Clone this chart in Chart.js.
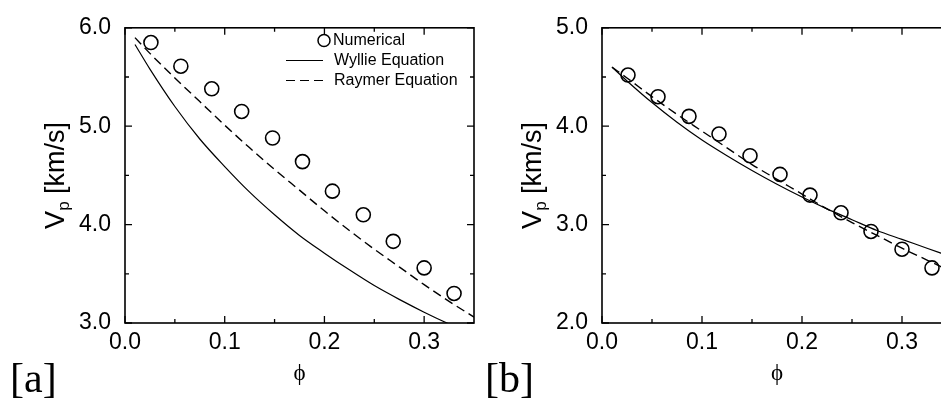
<!DOCTYPE html>
<html lang="en">
<head>
<meta charset="UTF-8">
<title>Vp versus porosity</title>
<script src="https://cdn.jsdelivr.net/npm/chart.js"></script>
<style>
  html, body { margin: 0; padding: 0; background: #fff; overflow: hidden; }
  #wrap { position: relative; width: 941px; height: 406px; overflow: hidden; }
  .panel { position: absolute; top: 0; width: 490px; height: 406px; }
  #panelA { left: 0; }
  #panelB { left: 477px; }
  .tag { position: absolute; font-family: 'Liberation Serif', serif; font-size: 42px; line-height: 1; color: #000; }
</style>
</head>
<body>
<div id="wrap">
  <div class="panel" id="panelA"><canvas id="chartA" width="490" height="406"></canvas></div>
  <div class="panel" id="panelB"><canvas id="chartB" width="490" height="406"></canvas></div>
  <div class="tag" style="left:10px; top:357px">[a]</div>
  <div class="tag" style="left:485px; top:357px">[b]</div>
</div>

<script>
// numerical results (circles)
const phiNum = [0.026, 0.056, 0.087, 0.117, 0.148, 0.178, 0.208, 0.239, 0.269, 0.300, 0.330];
const vpNumA = [5.85, 5.61, 5.38, 5.15, 4.88, 4.64, 4.34, 4.10, 3.83, 3.56, 3.30];
const vpNumB = [4.52, 4.30, 4.10, 3.92, 3.70, 3.51, 3.30, 3.12, 2.93, 2.75, 2.56];

// curves
const phiLine = [0.01, 0.025, 0.05, 0.075, 0.1, 0.125, 0.15, 0.175, 0.2, 0.225, 0.25, 0.275, 0.3, 0.325, 0.35];
const wyllieA = [5.83, 5.58, 5.20, 4.87, 4.59, 4.33, 4.10, 3.89, 3.71, 3.54, 3.38, 3.24, 3.11, 2.99, 2.88];
const raymerA = [5.90, 5.74, 5.49, 5.25, 5.01, 4.78, 4.56, 4.35, 4.14, 3.94, 3.75, 3.57, 3.39, 3.22, 3.06];
const wyllieB = [4.60, 4.46, 4.24, 4.04, 3.86, 3.70, 3.55, 3.41, 3.28, 3.16, 3.05, 2.94, 2.85, 2.76, 2.67];
const raymerB = [4.60, 4.49, 4.30, 4.12, 3.95, 3.78, 3.61, 3.46, 3.31, 3.16, 3.02, 2.89, 2.76, 2.64, 2.52];

// ticks
const xTicks = [0.0, 0.1, 0.2, 0.3];
const xMinor = [0.05, 0.15, 0.25];
const yTicksA = [3.0, 4.0, 5.0, 6.0];
const yMinorA = [3.5, 4.5, 5.5];
const yTicksB = [2.0, 3.0, 4.0, 5.0];
const yMinorB = [2.5, 3.5, 4.5];

const seriesNames = ['Numerical', 'Wyllie Equation', 'Raymer Equation'];
const xTitle = 'ϕ';
const yTitle = ['V', 'p', ' [km/s]'];

const pts = (xs, ys) => xs.map((x, i) => ({ x: x, y: ys[i] }));

// box, inward ticks and y title
const framePlugin = {
    id: 'frame',
    afterDatasetsDraw(chart, args, opts) {
        const { ctx, chartArea: a } = chart;
        const sx = chart.scales.x, sy = chart.scales.y;
        ctx.save();
        ctx.strokeStyle = '#000';
        ctx.lineWidth = 1.6;
        ctx.strokeRect(a.left, a.top, a.right - a.left, a.bottom - a.top);

        ctx.lineWidth = 1.3;
        ctx.beginPath();
        const tx = (v, len) => {
            const p = sx.getPixelForValue(v);
            ctx.moveTo(p, a.bottom); ctx.lineTo(p, a.bottom - len);
            ctx.moveTo(p, a.top); ctx.lineTo(p, a.top + len);
        };
        const ty = (v, len) => {
            const p = sy.getPixelForValue(v);
            ctx.moveTo(a.left, p); ctx.lineTo(a.left + len, p);
            ctx.moveTo(a.right, p); ctx.lineTo(a.right - len, p);
        };
        xTicks.forEach(v => tx(v, 7));
        xMinor.forEach(v => tx(v, 4));
        opts.yTicks.forEach(v => ty(v, 7));
        opts.yMinor.forEach(v => ty(v, 4));
        ctx.stroke();

        // y axis title with subscript
        const big = "27px 'Liberation Sans', Arial, sans-serif";
        const small = "17px 'Liberation Sans', Arial, sans-serif";
        ctx.font = big;
        const w1 = ctx.measureText(yTitle[0]).width;
        const w3 = ctx.measureText(yTitle[2]).width;
        ctx.font = small;
        const w2 = ctx.measureText(yTitle[1]).width;
        const total = w1 + w2 + w3;
        ctx.translate(57, (a.top + a.bottom) / 2);
        ctx.rotate(-Math.PI / 2);
        ctx.fillStyle = '#000';
        ctx.textBaseline = 'middle';
        ctx.textAlign = 'left';
        let px = -total / 2;
        ctx.font = big;
        ctx.fillText(yTitle[0], px, 0);
        px += w1;
        ctx.font = small;
        ctx.fillText(yTitle[1], px, 7);
        px += w2;
        ctx.font = big;
        ctx.fillText(yTitle[2], px, 0);
        ctx.restore();
    }
};

// legend inside panel a
const keyPlugin = {
    id: 'key',
    afterDraw(chart, args, opts) {
        if (!opts.show) return;
        const ctx = chart.ctx;
        ctx.save();
        ctx.strokeStyle = '#000';
        ctx.fillStyle = '#000';
        ctx.font = "16px 'Liberation Sans', Arial, sans-serif";
        ctx.textBaseline = 'middle';
        ctx.textAlign = 'left';

        ctx.lineWidth = 1.5;
        ctx.beginPath();
        ctx.arc(324, 40.5, 6, 0, Math.PI * 2);
        ctx.stroke();
        ctx.fillText(seriesNames[0], 333, 41);

        ctx.lineWidth = 1.2;
        ctx.beginPath();
        ctx.moveTo(286, 60.5); ctx.lineTo(323, 60.5);
        ctx.stroke();
        ctx.fillText(seriesNames[1], 334, 61);

        ctx.setLineDash([9, 5]);
        ctx.beginPath();
        ctx.moveTo(286, 80.5); ctx.lineTo(323, 80.5);
        ctx.stroke();
        ctx.setLineDash([]);
        ctx.fillText(seriesNames[2], 334, 81);
        ctx.restore();
    }
};

function makeChart(id, numY, wyllie, raymer, yTicks, yMinor, yMin, yMax, padTop, padRight, showKey) {
    const tickFont = { family: "'Liberation Sans', Arial, sans-serif", size: 23 };
    return new Chart(document.getElementById(id), {
        type: 'scatter',
        data: {
            datasets: [
                {
                    label: seriesNames[0],
                    data: pts(phiNum, numY),
                    showLine: false,
                    pointStyle: 'circle',
                    pointRadius: 7,
                    pointBorderWidth: 1.6,
                    pointBorderColor: '#000',
                    pointBackgroundColor: 'rgba(0,0,0,0)'
                },
                {
                    label: seriesNames[1],
                    data: pts(phiLine, wyllie),
                    showLine: true,
                    borderColor: '#000',
                    borderWidth: 1.2,
                    pointRadius: 0,
                    cubicInterpolationMode: 'monotone'
                },
                {
                    label: seriesNames[2],
                    data: pts(phiLine, raymer),
                    showLine: true,
                    borderColor: '#000',
                    borderWidth: 1.4,
                    borderDash: [9, 5],
                    pointRadius: 0,
                    cubicInterpolationMode: 'monotone'
                }
            ]
        },
        options: {
            responsive: false,
            animation: false,
            events: [],
            layout: { padding: { left: 0, top: padTop, right: padRight, bottom: 0 } },
            scales: {
                x: {
                    type: 'linear',
                    min: 0,
                    max: 0.35,
                    afterBuildTicks: s => { s.ticks = xTicks.map(v => ({ value: v })); },
                    afterFit: s => { s.height = 83; },
                    grid: { display: false, drawTicks: false },
                    border: { display: false },
                    ticks: { padding: 6, color: '#000', font: tickFont, callback: v => v.toFixed(1) },
                    title: {
                        display: true,
                        text: xTitle,
                        color: '#000',
                        font: { family: "'Liberation Serif', 'DejaVu Serif', serif", size: 23 },
                        padding: { top: 0, bottom: 18 }
                    }
                },
                y: {
                    type: 'linear',
                    min: yMin,
                    max: yMax,
                    afterBuildTicks: s => { s.ticks = yTicks.map(v => ({ value: v })); },
                    afterFit: s => { s.width = 125; },
                    grid: { display: false, drawTicks: false },
                    border: { display: false },
                    ticks: { padding: 14, color: '#000', font: tickFont, callback: v => v.toFixed(1) },
                    title: { display: false }
                }
            },
            plugins: {
                legend: { display: false },
                tooltip: { enabled: false },
                frame: { yTicks: yTicks, yMinor: yMinor },
                key: { show: showKey }
            }
        },
        plugins: [framePlugin, keyPlugin]
    });
}

makeChart('chartA', vpNumA, wyllieA, raymerA, yTicksA, yMinorA, 3, 6, 20, 16, true);
makeChart('chartB', vpNumB, wyllieB, raymerB, yTicksB, yMinorB, 2, 5, 18, 15, false);
</script>
</body>
</html>
